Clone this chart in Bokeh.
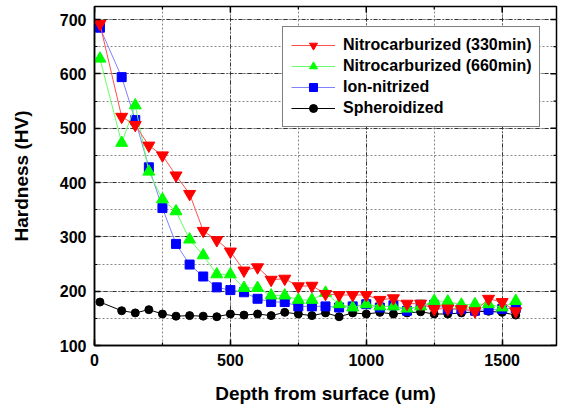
import math
from bokeh.plotting import figure
from bokeh.models import Range1d, Legend, LegendItem, SingleIntervalTicker
from bokeh.embed import file_html
from bokeh.resources import INLINE

depth = [20, 100, 150, 200, 250, 300, 350, 400, 450, 500, 550, 600, 650, 700, 750, 800,
         850, 900, 950, 1000, 1050, 1100, 1150, 1200, 1250, 1300, 1350, 1400, 1450, 1500, 1550]
nitro_330 = [692, 521, 506, 468, 450, 413, 379, 311, 294, 273, 238, 244, 221, 223, 209, 210,
             195, 193, 193, 193, 184, 187, 177, 177, 167, 168, 167, 163, 186, 180, 163]
nitro_660 = [628, 473, 542, 420, 369, 347, 295, 266, 231, 231, 206, 206, 192, 192, 184, 184,
             197, 176, 170, 176, 172, 172, 168, 172, 182, 181, 175, 176, 176, 170, 182]
ion_nitr = [685, 594, 515, 428, 353, 287, 249, 227, 207, 202, 198, 186, 180, 180, 172, 172,
            172, 170, 172, 176, 170, 174, 164, 175, 175, 167, 167, 164, 166, 167, 169]
spheroid = [180, 164, 160, 166, 158, 154, 155, 154, 153, 158, 156, 158, 155, 161, 158, 155,
            160, 153, 160, 158, 161, 158, 160, 162, 158, 158, 160, 162, 163, 161, 156]
labels = ["Nitrocarburized (330min)", "Nitrocarburized (660min)", "Ion-nitrized", "Spheroidized"]

x_major = [0, 500, 1000, 1500]
x_minor = [250, 750, 1250]
y_major = [100, 200, 300, 400, 500, 600, 700]
y_minor = [150, 250, 350, 450, 550, 650]
X_MAX = 1700
Y_MAX = 724

FONT = "Liberation Sans"

p = figure(width=562, height=409, output_backend="svg", toolbar_location=None,
           x_range=Range1d(0, X_MAX), y_range=Range1d(100, Y_MAX),
           min_border_left=94, min_border_right=6, min_border_top=6, min_border_bottom=64)
p.background_fill_color = "white"
p.outline_line_color = "black"
p.outline_line_width = 1.5

xt = SingleIntervalTicker(interval=500, num_minor_ticks=2)
yt = SingleIntervalTicker(interval=100, num_minor_ticks=2)


def style_axis(ax):
    ax.axis_line_color = "black"
    ax.axis_line_width = 1.5
    ax.major_tick_in = 6
    ax.major_tick_out = 0
    ax.minor_tick_in = 3
    ax.minor_tick_out = 0
    ax.major_tick_line_color = "black"
    ax.minor_tick_line_color = "black"
    ax.major_tick_line_width = 1.5
    ax.minor_tick_line_width = 1.2
    ax.major_label_text_font = FONT
    ax.major_label_text_font_style = "bold"
    ax.major_label_text_color = "black"
    ax.major_label_text_font_size = "16px"
    ax.axis_label_text_font = FONT
    ax.axis_label_text_font_style = "bold"
    ax.axis_label_text_font_size = "19px"
    ax.axis_label_text_color = "black"


p.xaxis.ticker = xt
p.yaxis.ticker = yt
style_axis(p.xaxis[0])
style_axis(p.yaxis[0])
p.xaxis.axis_label = "Depth from surface (um)"
p.yaxis.axis_label = "Hardness (HV)"
p.xaxis.major_label_standoff = 8
p.xaxis.axis_label_standoff = 14
p.yaxis.major_label_standoff = 8
p.yaxis.axis_label_standoff = 25

# mirrored inward ticks on the top and right frame edges
p.ray(x=x_major, y=[Y_MAX] * len(x_major), length=6, angle=-math.pi / 2,
      length_units="screen", line_color="black", line_width=1.5)
p.ray(x=x_minor, y=[Y_MAX] * len(x_minor), length=3, angle=-math.pi / 2,
      length_units="screen", line_color="black", line_width=1.2)
p.ray(x=[X_MAX] * len(y_major), y=y_major, length=6, angle=math.pi,
      length_units="screen", line_color="black", line_width=1.5)
p.ray(x=[X_MAX] * len(y_minor), y=y_minor, length=3, angle=math.pi,
      length_units="screen", line_color="black", line_width=1.2)

for g in (p.xgrid[0], p.ygrid[0]):
    g.grid_line_color = "#333333"
    g.grid_line_dash = "4 2 1 2"
    g.grid_line_width = 1
    g.minor_grid_line_color = "#888888"
    g.minor_grid_line_dash = "2 2"
    g.minor_grid_line_width = 1

series = [
    (spheroid, "black", "black", "circle", 8),
    (ion_nitr, "#8080ff", "#0000ff", "square", 9),
    (nitro_660, "#66ff66", "#00ff00", "triangle", 12),
    (nitro_330, "#ff5050", "#ff0000", "inverted_triangle", 12),
]
renderers = []
for ys, lc, mc, mk, sz in series:
    ln = p.line(depth, ys, line_color=lc, line_width=1)
    sc = p.scatter(depth, ys, marker=mk, size=sz, fill_color=mc, line_color=mc, line_width=1)
    renderers.append([ln, sc])

items = [
    LegendItem(label=labels[0], renderers=renderers[3]),
    LegendItem(label=labels[1], renderers=renderers[2]),
    LegendItem(label=labels[2], renderers=renderers[1]),
    LegendItem(label=labels[3], renderers=renderers[0]),
]
legend = Legend(items=items, location=(188, 218))
legend.label_text_font = FONT
legend.label_text_font_style = "bold"
legend.label_text_font_size = "16px"
legend.label_text_color = "black"
legend.label_height = 20
legend.glyph_height = 20
legend.glyph_width = 44
legend.label_standoff = 8
legend.spacing = 1
legend.padding = 8
legend.margin = 0
legend.border_line_color = "black"
legend.border_line_width = 1.5
legend.background_fill_color = "white"
legend.background_fill_alpha = 1
p.add_layout(legend, "center")

open("out.html", "w").write(file_html(p, INLINE))
